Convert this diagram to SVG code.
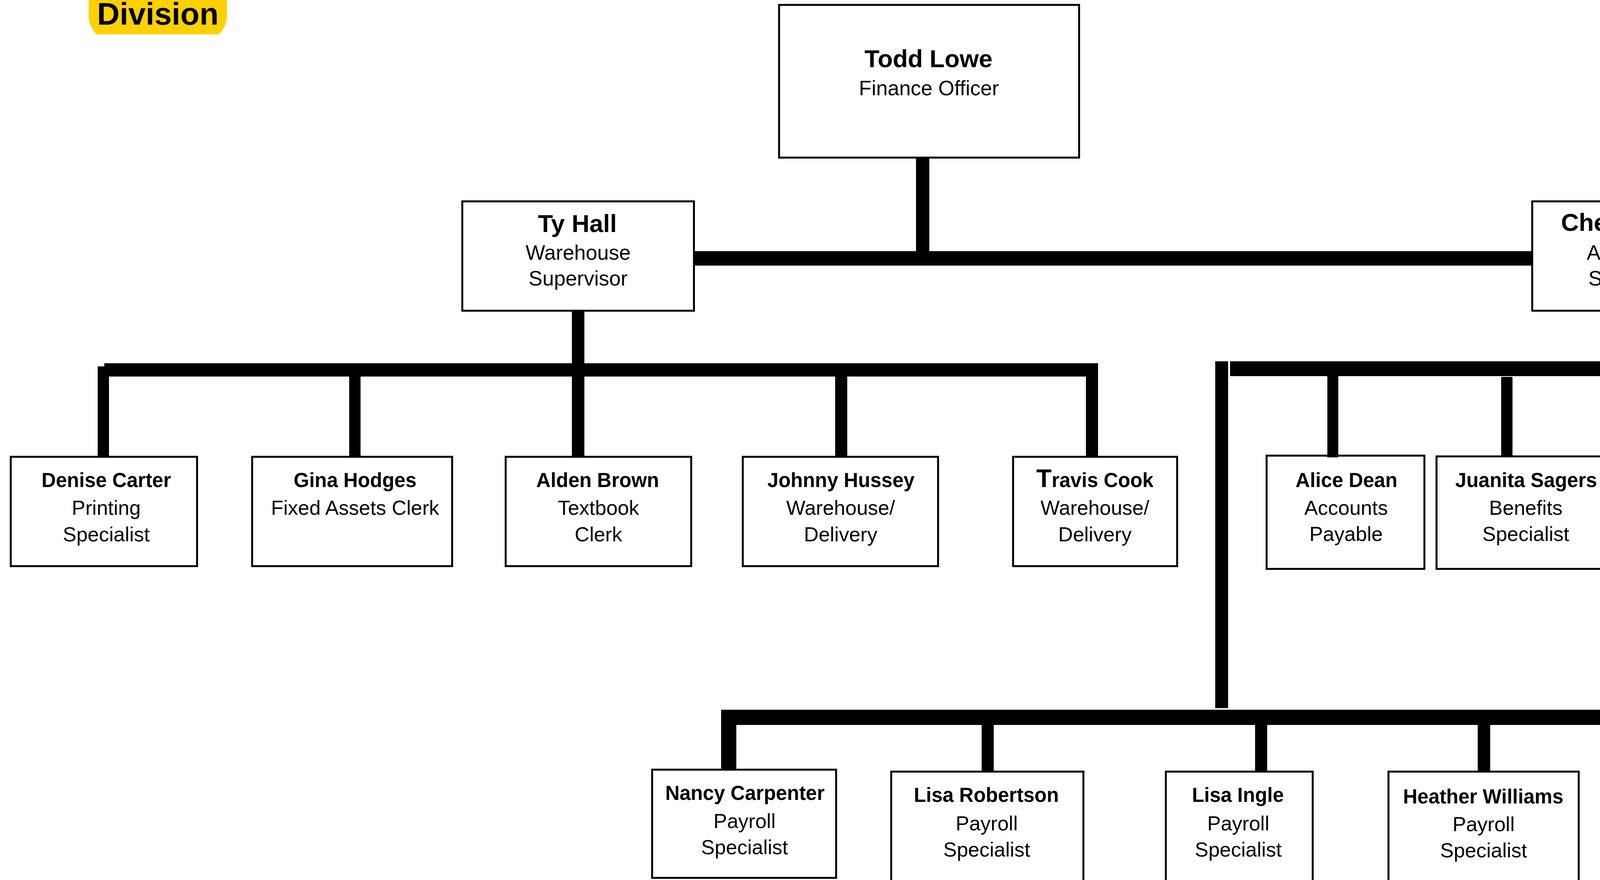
<svg xmlns="http://www.w3.org/2000/svg" width="5129" height="2253" viewBox="0 0 5129 2253">
<style>
.box{fill:#fff;stroke:#000;stroke-width:5}
.c{fill:#000}
text{font-family:"Liberation Sans",Arial,sans-serif;text-anchor:middle;fill:#000}
.n{font-weight:bold;font-size:51px}
.r{font-size:52px}
.n1{font-weight:bold;font-size:63px}
.r1{font-size:53px}
</style>
<rect width="5129" height="2253" fill="#fff"/>
<g id="division-label">
<path d="M227,0 L227,38 A72.5,72.5 0 0 0 247,88 L561,88 A72.5,72.5 0 0 0 581,38 L581,0 Z" fill="#FFD100"/>
<text x="404" y="63" style="font-weight:bold;font-size:80px">Division</text>
</g>
<g id="todd-lowe">
<rect class="box" x="1994.5" y="12.5" width="768" height="391"/>
<text class="n1" x="2377" y="172">Todd Lowe</text>
<text class="r1" x="2378" y="244">Finance Officer</text>
</g>
<g id="ty-hall">
<rect class="box" x="1183.5" y="515.5" width="593" height="280"/>
<text class="n1" x="1478" y="594">Ty Hall</text>
<text class="r1" x="1480" y="665">Warehouse</text>
<text class="r1" x="1480" y="731">Supervisor</text>
</g>
<g id="cheryl-lucas">
<rect class="box" x="3922.5" y="515.5" width="542" height="280"/>
<text class="n1" x="4194" y="591">Cheryl Lucas</text>
<text class="r1" x="4193" y="665">Accounting</text>
<text class="r1" x="4193" y="731">Supervisor</text>
</g>
<g id="denise-carter">
<rect class="box" x="27.5" y="1169.5" width="477" height="280"/>
<text class="n" x="272" y="1247">Denise Carter</text>
<text class="r" x="272" y="1318">Printing</text>
<text class="r" x="272" y="1386">Specialist</text>
</g>
<g id="gina-hodges">
<rect class="box" x="645.5" y="1169.5" width="512" height="280"/>
<text class="n" x="909" y="1247">Gina Hodges</text>
<text class="r" x="909" y="1318">Fixed Assets Clerk</text>
</g>
<g id="alden-brown">
<rect class="box" x="1294.5" y="1169.5" width="475" height="280"/>
<text class="n" x="1530" y="1247">Alden Brown</text>
<text class="r" x="1532" y="1318">Textbook</text>
<text class="r" x="1532" y="1386">Clerk</text>
</g>
<g id="johnny-hussey">
<rect class="box" x="1901.5" y="1169.5" width="500" height="280"/>
<text class="n" x="2153" y="1247">Johnny Hussey</text>
<text class="r" x="2152" y="1318">Warehouse/</text>
<text class="r" x="2152" y="1386">Delivery</text>
</g>
<g id="travis-cook">
<rect class="box" x="2593.5" y="1169.5" width="420" height="280"/>
<text class="n" x="2803" y="1247"><tspan style="font-size:64px">T</tspan>ravis Cook</text>
<text class="r" x="2803" y="1318">Warehouse/</text>
<text class="r" x="2803" y="1386">Delivery</text>
</g>
<g id="alice-dean">
<rect class="box" x="3242.5" y="1166.5" width="404" height="290"/>
<text class="n" x="3447" y="1247">Alice Dean</text>
<text class="r" x="3446" y="1318">Accounts</text>
<text class="r" x="3446" y="1385">Payable</text>
</g>
<g id="juanita-sagers">
<rect class="box" x="3677.5" y="1168.5" width="450" height="288"/>
<text class="n" x="3907" y="1247">Juanita Sagers</text>
<text class="r" x="3906" y="1318">Benefits</text>
<text class="r" x="3906" y="1385">Specialist</text>
</g>
<g id="cristie-hammer">
<rect class="box" x="4168.5" y="1168.5" width="435" height="293"/>
<text class="n" x="4389" y="1235">Cristie Hammer</text>
<text class="r" x="4388" y="1306">Benefits/</text>
<text class="r" x="4388" y="1373">Finance</text>
<text class="r" x="4388" y="1440">Assistant</text>
</g>
<g id="sharon-spencer">
<rect class="box" x="4638.5" y="1166.5" width="485" height="295"/>
<text class="n" x="4874" y="1235">Sharon Spencer</text>
<text class="r" x="4874" y="1307">School Treasurer</text>
<text class="r" x="4874" y="1374">Support Specialist</text>
</g>
<g id="nancy-carpenter">
<rect class="box" x="1669.5" y="1970.5" width="471" height="277"/>
<text class="n" x="1907" y="2048">Nancy Carpenter</text>
<text class="r" x="1906" y="2120">Payroll</text>
<text class="r" x="1906" y="2187">Specialist</text>
</g>
<g id="lisa-robertson">
<rect class="box" x="2281.5" y="1975.5" width="492" height="290"/>
<text class="n" x="2525" y="2053">Lisa Robertson</text>
<text class="r" x="2526" y="2126">Payroll</text>
<text class="r" x="2526" y="2193">Specialist</text>
</g>
<g id="lisa-ingle">
<rect class="box" x="2984.5" y="1975.5" width="376" height="290"/>
<text class="n" x="3169" y="2053">Lisa Ingle</text>
<text class="r" x="3170" y="2126">Payroll</text>
<text class="r" x="3170" y="2193">Specialist</text>
</g>
<g id="heather-williams">
<rect class="box" x="3554.5" y="1975.5" width="487" height="290"/>
<text class="n" x="3797" y="2057">Heather Williams</text>
<text class="r" x="3798" y="2128">Payroll</text>
<text class="r" x="3798" y="2195">Specialist</text>
</g>
<g id="miranda-poole">
<rect class="box" x="4212.5" y="1975.5" width="421" height="290"/>
<text class="n" x="4428" y="2057">Miranda Poole</text>
<text class="r" x="4425" y="2128">Payroll</text>
<text class="r" x="4425" y="2195">Specialist</text>
</g>
<g id="connectors">
<rect class="c" x="2345" y="406" width="34" height="240"/>
<rect class="c" x="1779" y="643" width="2142" height="37"/>
<rect class="c" x="1464" y="798" width="32" height="369"/>
<rect class="c" x="4203" y="798" width="31" height="130"/>
<rect class="c" x="267" y="930" width="2544" height="34"/>
<rect class="c" x="250" y="938" width="29" height="229"/>
<rect class="c" x="894" y="964" width="29" height="203"/>
<rect class="c" x="2138" y="964" width="31" height="203"/>
<rect class="c" x="2780" y="930" width="31" height="237"/>
<rect class="c" x="3149" y="925" width="1711" height="38"/>
<rect class="c" x="4860" y="923" width="35" height="241"/>
<rect class="c" x="3111" y="925" width="33" height="888"/>
<rect class="c" x="3398" y="963" width="28" height="208"/>
<rect class="c" x="3843" y="965" width="29" height="206"/>
<rect class="c" x="4354" y="963" width="34" height="203"/>
<rect class="c" x="1846" y="1817" width="2592" height="39"/>
<rect class="c" x="1846" y="1856" width="39" height="112"/>
<rect class="c" x="2513" y="1856" width="31" height="117"/>
<rect class="c" x="3213" y="1856" width="31" height="117"/>
<rect class="c" x="3783" y="1856" width="32" height="117"/>
<rect class="c" x="4406" y="1856" width="32" height="117"/>
</g>
</svg>
